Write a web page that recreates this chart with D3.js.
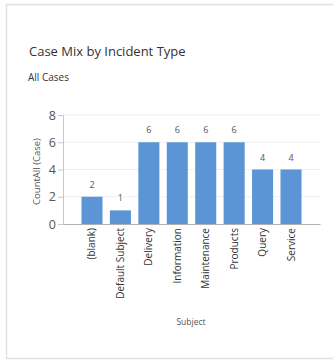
<!DOCTYPE html>
<html>
<head>
<meta charset="utf-8">
<script src="https://cdn.jsdelivr.net/npm/d3@7"></script>
<style>
  body { margin: 0; background: #fff; font-family: "Open Sans", "Noto Sans", sans-serif; }
  #chart { width: 333px; height: 361px; }
</style>
</head>
<body>
<div id="chart"></div>
<script>
// chart data
let subjects = ["(blank)", "Default Subject", "Delivery", "Information", "Maintenance", "Products", "Query", "Service"];
let counts = [2, 1, 6, 6, 6, 6, 4, 4];
let yTicks = [0, 2, 4, 6, 8];

let width = 333, height = 361;

let svg = d3.select("#chart").append("svg")
    .attr("width", width)
    .attr("height", height);

// card border
svg.append("rect")
    .attr("x", 6.5).attr("y", 4.5)
    .attr("width", 340).attr("height", 354)
    .attr("fill", "#fff")
    .attr("stroke", "#e1e1e1")
    .attr("stroke-width", 1.5);

// title + subtitle
svg.append("text")
    .attr("x", 29).attr("y", 56)
    .attr("font-size", "13px")
    .attr("fill", "#333")
    .text("Case Mix by Incident Type");

svg.append("text")
    .attr("x", 28).attr("y", 81)
    .attr("font-size", "10px")
    .attr("fill", "#333")
    .text("All Cases");

let plot = {left: 63, right: 320, top: 115, bottom: 224};

let x = d3.scaleBand()
    .domain(subjects)
    .range([plot.left, plot.right])
    .paddingInner(0.26)
    .paddingOuter(0.65);

let y = d3.scaleLinear()
    .domain([0, 8])
    .range([plot.bottom, plot.top]);

// gridlines
svg.append("g")
    .selectAll("line")
    .data(yTicks.filter(d => d > 0))
    .enter().append("line")
    .attr("x1", plot.left).attr("x2", plot.right)
    .attr("y1", d => y(d)).attr("y2", d => y(d))
    .attr("stroke", "#eeeef4");

// y axis
let yAxis = svg.append("g")
    .attr("transform", `translate(${plot.left},0)`)
    .call(d3.axisLeft(y).tickValues(yTicks).tickSize(5).tickPadding(2));
yAxis.select(".domain").attr("stroke", "#c8c8c8");
yAxis.selectAll(".tick line").attr("stroke", "#c8c8c8");
yAxis.selectAll("text")
    .attr("font-family", "Open Sans, sans-serif")
    .attr("font-size", "12.5px")
    .attr("fill", "#555");

svg.append("text")
    .attr("transform", `translate(40,${(plot.top + plot.bottom) / 2 + 2}) rotate(-90)`)
    .attr("text-anchor", "middle")
    .attr("font-size", "9.5px")
    .attr("fill", "#555")
    .text("CountAll (Case)");

// bars
svg.append("g")
    .selectAll("rect")
    .data(subjects)
    .enter().append("rect")
    .attr("x", d => x(d))
    .attr("y", (d, i) => y(counts[i]))
    .attr("width", x.bandwidth())
    .attr("height", (d, i) => plot.bottom - y(counts[i]))
    .attr("fill", "#5b95d6");

// value labels
svg.append("g")
    .selectAll("text")
    .data(subjects)
    .enter().append("text")
    .attr("x", d => x(d) + x.bandwidth() / 2)
    .attr("y", (d, i) => y(counts[i]) - 9)
    .attr("text-anchor", "middle")
    .attr("font-size", "9px")
    .attr("fill", "#555")
    .text((d, i) => counts[i]);

// x axis
let xAxis = svg.append("g")
    .attr("transform", `translate(0,${plot.bottom})`)
    .call(d3.axisBottom(x).tickSize(0).tickPadding(4).tickSizeOuter(0));
xAxis.select(".domain").attr("stroke", "#b0b0b0");
xAxis.selectAll("text")
    .attr("font-family", "Open Sans, sans-serif")
    .attr("font-size", "10px")
    .attr("fill", "#333")
    .attr("transform", "rotate(-90)")
    .attr("text-anchor", "end")
    .attr("dy", "0.35em")
    .attr("x", -4)
    .attr("y", 0);

svg.append("text")
    .attr("x", 191).attr("y", 325)
    .attr("text-anchor", "middle")
    .attr("font-size", "8.5px")
    .attr("fill", "#555")
    .text("Subject");
</script>
</body>
</html>
